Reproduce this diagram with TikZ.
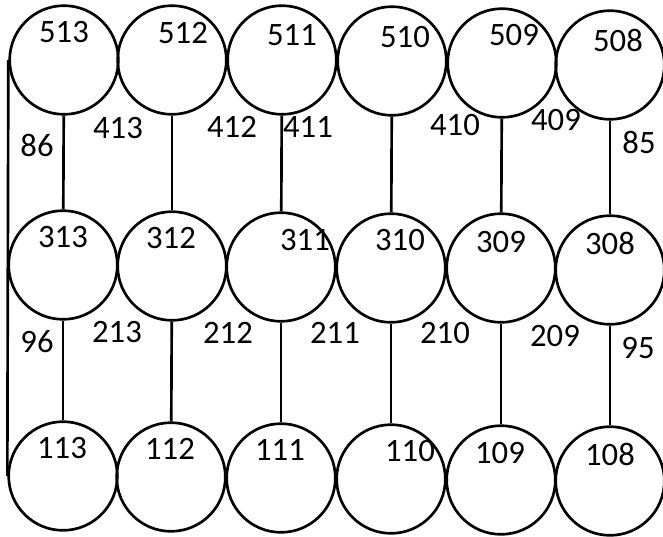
\documentclass[tikz,border=0pt]{standalone}
\usepackage{fontspec}
\setmainfont{Carlito}
\usepackage{tikz}
\usetikzlibrary{positioning}

\begin{document}
\begin{tikzpicture}[x=0.75pt, y=-0.75pt, line width=2pt,
    font=\fontsize{24.5}{29}\selectfont,
    cell/.style={circle, draw, inner sep=0pt, minimum size=81.5pt},
    num/.style={inner sep=0pt}]
    \useasboundingbox (0,0) rectangle (663,536);
    % circles and their numbers
    \foreach \name/\x/\y/\tx/\ty in {
      513/64/60/64/32, 512/172/60/183/33, 511/282/60/292/35,
      510/392/61/405/37, 509/502/63/514/35, 508/610/65/618/40,
      313/63/265/63/237, 312/172/266/171/238, 311/281/267/305/240,
      310/391/268/400/240, 309/501/268/501/242, 308/610/270/610/243,
      113/63/476/62/448, 112/171/477/170/449, 111/281/478/280/450,
      110/391/479/410/451, 109/501/480/500/453, 108/610/481/610/454} {
      \node[cell] (c\name) at (\x,\y) {};
      \node[num] (t\name) at (\tx,\ty) {\name};
    }
    % vertical links
    \foreach \col in {13,12,11,10,09,08} {
      \draw (c5\col) -- (c3\col);
      \draw (c3\col) -- (c1\col);
    }
    \draw (c513.west) -- (c113.west);
    % reference numerals
    \foreach \name/\x/\y in {86/37/145, 413/118/128, 412/232/127,
      411/308/127, 410/455/125, 409/556/120, 85/639/142,
      96/37/342, 213/117/332, 212/228/333, 211/335/333,
      210/445/333, 209/555/336, 95/638/348} {
      \node[num] (r\name) at (\x,\y) {\name};
    }
\end{tikzpicture}
\end{document}
